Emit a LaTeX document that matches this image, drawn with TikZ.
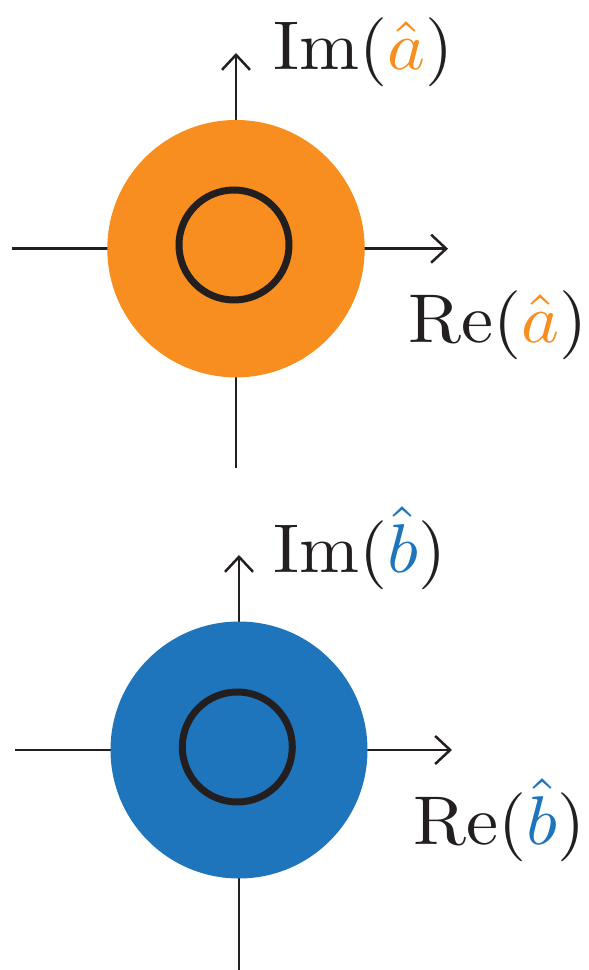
\documentclass[tikz,border=0pt]{standalone}
\usetikzlibrary{arrows.meta}
\definecolor{qorange}{RGB}{247,142,31}
\definecolor{qblue}{RGB}{31,117,187}
\definecolor{qblack}{RGB}{35,31,32}
\tikzset{
  axisline/.style={draw=qblack,line width=2.5pt},
  axisarrow/.style={axisline,-{Straight Barb[length=15pt,width=28pt,line width=2.5pt]}},
  ringline/.style={draw=qblack,line width=7pt},
  biglabel/.style={anchor=base west,inner sep=0pt,text=qblack,font=\normalsize,xscale=7.2,yscale=6.9,transform shape}
}
\begin{document}
\begin{tikzpicture}[x=1pt,y=1pt]
\useasboundingbox (0,0) rectangle (589,970);
% ---------- top (a) ----------
\coordinate (oa) at (236,721.3);
\coordinate (aw) at (11.7,721.3);
\coordinate (ae) at (448,721.3);
\coordinate (as) at (236,501.7);
\coordinate (an) at (236,917);
\draw[axisline] (aw) -- (oa);
\draw[axisarrow] (oa) -- (ae);
\draw[axisline] (as) -- (oa);
\draw[axisarrow] (oa) -- (an);
\fill[qorange] (oa) circle[radius=128.7];
\coordinate (ca) at (234,725);
\draw[ringline] (ca) circle[radius=55];
\node[biglabel] (ima) at (271.7,900.7) {$\mathrm{Im}(\textcolor{qorange}{\hat{a}})$};
\node[biglabel] (rea) at (406.7,627.3) {$\mathrm{Re}(\textcolor{qorange}{\hat{a}})$};
% ---------- bottom (b) ----------
\coordinate (ob) at (239,220);
\coordinate (bw) at (15,220);
\coordinate (be) at (452,220);
\coordinate (bs) at (239,0);
\coordinate (bn) at (239,415);
\draw[axisline] (bw) -- (ob);
\draw[axisarrow] (ob) -- (be);
\draw[axisline] (bs) -- (ob);
\draw[axisarrow] (ob) -- (bn);
\fill[qblue] (ob) circle[radius=128.5];
\coordinate (cb) at (237.3,223);
\draw[ringline] (cb) circle[radius=55];
\node[biglabel] (imb) at (271.7,397.3) {$\mathrm{Im}(\textcolor{qblue}{\hat{b}})$};
\node[biglabel] (reb) at (412.3,125.7) {$\mathrm{Re}(\textcolor{qblue}{\hat{b}})$};
\end{tikzpicture}
\end{document}
